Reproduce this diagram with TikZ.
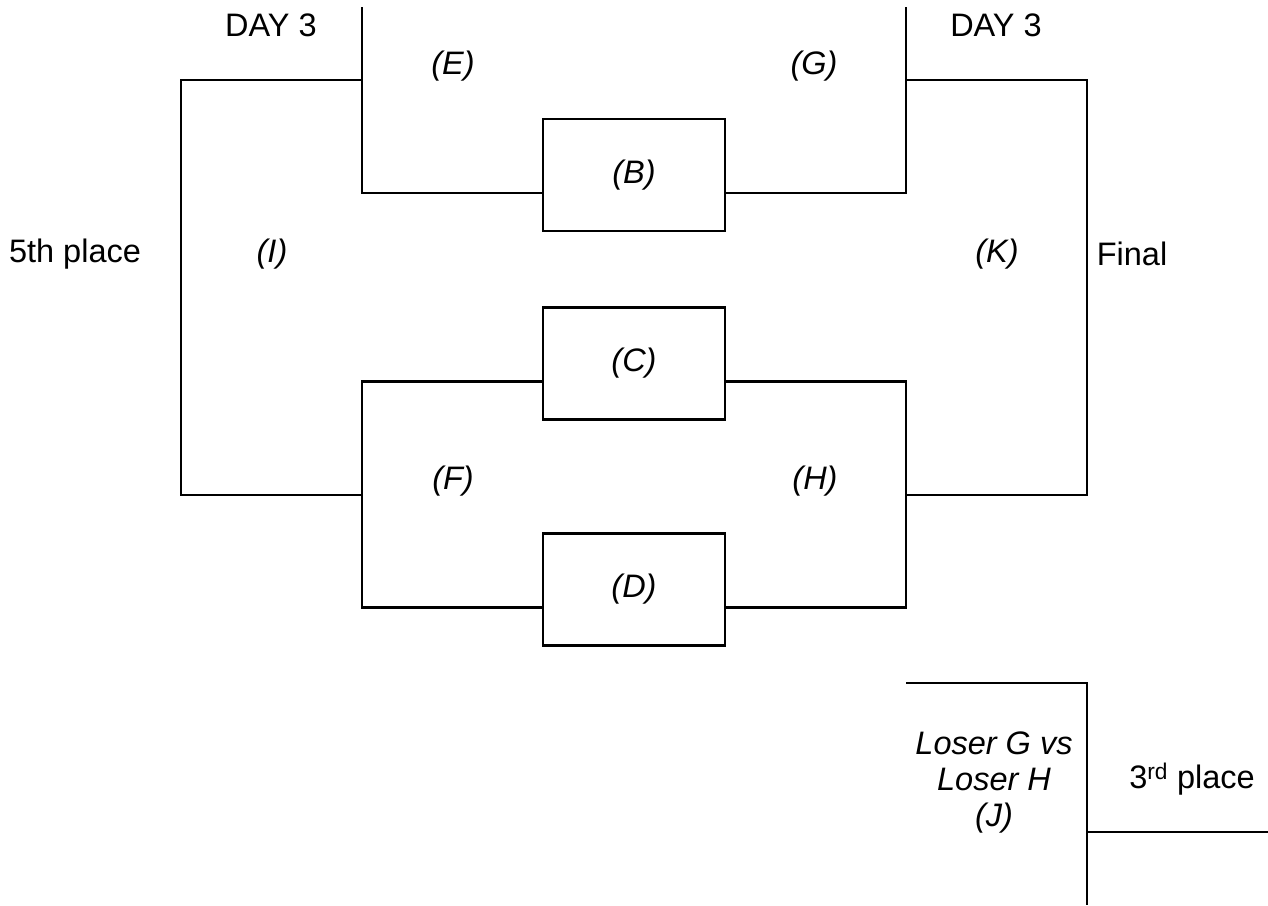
\documentclass[tikz,border=0pt]{standalone}
\usepackage{fontspec}
\setmainfont{Liberation Sans}
\begin{document}
\begin{tikzpicture}[x=1pt,y=-1pt,line width=2.3pt,
  txt/.style={font=\fontsize{32.5}{36}\selectfont, inner sep=0pt},
  lab/.style={font=\fontsize{32.5}{36}\selectfont\itshape, inner sep=0pt},
  box/.style={draw, line width=2.3pt, minimum width=182pt, minimum height=112pt, inner sep=0pt, font=\fontsize{32.5}{36}\selectfont\itshape},
  wire/.style={draw, line width=2.3pt}]
\useasboundingbox (0,0) rectangle (1268,905);
% match boxes
\node[box] (B) at (634,175) {(B)};
\node[box] (C) at (634,363.5) {(C)};
\node[box] (D) at (634,589.5) {(D)};
% bracket corners
\coordinate (eTop) at (362,7);
\coordinate (eMid) at (362,80);
\coordinate (iTL) at (181,80);
\coordinate (iBL) at (181,495);
\coordinate (fMid) at (362,495);
\coordinate (gTop) at (906,7);
\coordinate (gMid) at (906,80);
\coordinate (kTR) at (1087,80);
\coordinate (kBR) at (1087,495);
\coordinate (hMid) at (906,495);
\coordinate (jTL) at (906,683);
\coordinate (jTR) at (1087,683);
\coordinate (jBot) at (1087,905);
\coordinate (jMid) at (1087,832);
\coordinate (jOut) at (1268,832);
% connectors
\draw[wire] (eTop) |- ([yshift=-18pt]B.west);
\draw[wire] ([yshift=-18pt]B.east) -| (gTop);
\draw[wire] (eMid) -- (iTL) -- (iBL) -- (fMid);
\draw[wire] (gMid) -- (kTR) -- (kBR) -- (hMid);
\draw[wire] ([yshift=-18pt]C.west) -| (fMid) |- ([yshift=-18pt]D.west);
\draw[wire] ([yshift=-18pt]C.east) -| (hMid) |- ([yshift=-18pt]D.east);
\draw[wire] (jTL) -- (jTR) -- (jBot);
\draw[wire] (jMid) -- (jOut);
% labels
\node[txt] (day3l) at (271,25) {DAY 3};
\node[txt] (day3r) at (996,25) {DAY 3};
\node[lab] (E) at (453,66) {(E)};
\node[lab] (G) at (814,66) {(G)};
\node[lab] (I) at (272,254) {(I)};
\node[lab] (K) at (997,254) {(K)};
\node[txt] (fifth) at (75,254) {5th place};
\node[txt] (final) at (1132,254) {Final};
\node[lab] (F) at (453,481) {(F)};
\node[lab] (H) at (815,481) {(H)};
\node[lab, align=center] (J) at (994,783) {Loser G vs\\Loser H\\(J)};
\node[txt] (third) at (1192,779) {3\textsuperscript{rd} place};
\end{tikzpicture}
\end{document}
